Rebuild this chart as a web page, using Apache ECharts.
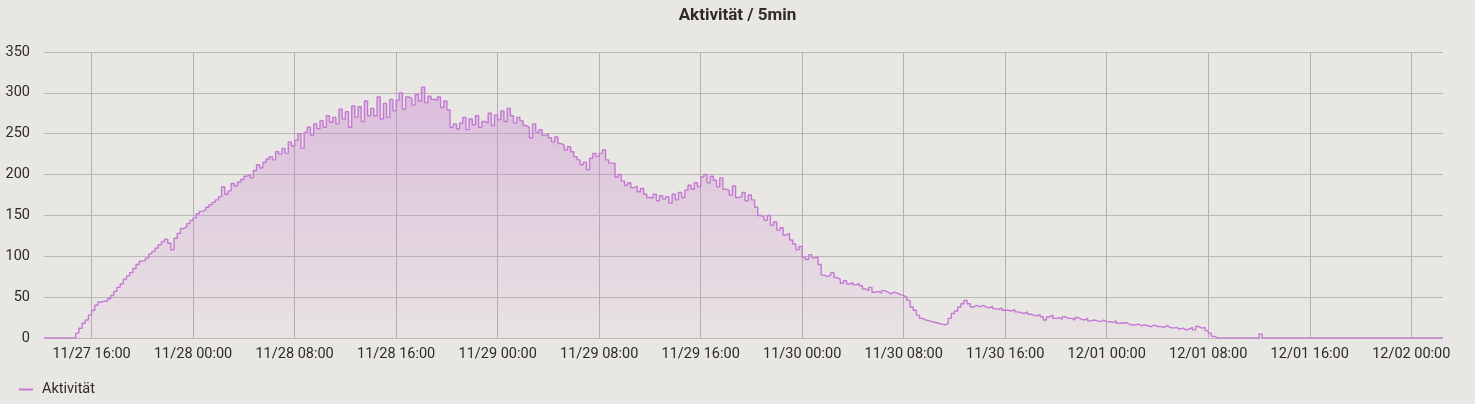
<!DOCTYPE html>
<html>
<head>
<meta charset="utf-8">
<script src="https://cdn.jsdelivr.net/npm/echarts@6/dist/echarts.min.js"></script>
<style>
html,body{margin:0;padding:0;background:#e9e7e3;}
#chart{width:1475px;height:404px;}
</style>
</head>
<body>
<div id="chart"></div>
<script>
// Series: Aktivität, 15-minute samples starting 11/27 12:15
const seriesName = 'Aktivität';
const startTime = [2023, 10, 27, 12, 15];
const endTime = [2023, 11, 2, 2, 30];
const stepMinutes = 15;
const values = [
  // 11/27 12:15..12:45
  0,0,0,
  // 13
  0,0,0,0,
  // 14
  0,0,0,6,
  // 15
  12,18,22,28,
  // 16
  34,40,44,45,
  // 17
  45,48,52,57,
  // 18
  62,66,72,76,
  // 19
  80,85,90,94,
  // 20
  95,98,103,106,
  // 21
  110,114,118,121,
  // 22
  116,108,122,128,
  // 23
  134,136,140,144,
  // 11/28 00
  147,152,155,157,
  160,163,166,169,
  173,185,176,180,
  189,186,191,194,
  198,200,196,205,
  212,208,215,219,
  222,218,228,225,
  232,226,240,235,
  242,250,232,252,
  258,248,262,256,
  266,258,272,264,
  270,262,280,268,
  277,258,284,270,
  283,265,290,272,
  281,272,295,268,
  287,270,292,278,
  291,300,280,295,
  293,285,298,290,
  307,288,296,292,
  291,295,282,290,
  279,258,262,256,
  263,270,255,268,
  261,272,258,265,
  263,275,260,273,
  // 11/29 00
  267,278,265,281,
  272,263,270,266,
  260,258,245,262,
  252,255,248,250,
  245,240,246,238,
  236,230,234,228,
  222,218,212,215,
  206,220,226,222,
  226,230,218,214,
  214,197,200,192,
  187,190,184,186,
  179,183,176,172,
  171,176,168,174,
  170,173,165,176,
  169,178,172,181,
  187,182,190,185,
  197,200,190,198,
  193,185,196,182,
  181,175,186,172,
  173,178,168,175,
  169,160,150,148,
  144,150,138,142,
  132,135,126,128,
  120,115,108,112,
  // 11/30 00
  99,96,102,98,
  99,90,77,75,
  77,80,74,72,
  67,70,66,68,
  65,67,64,60,
  58,62,56,57,
  55,58,56,54,
  56,55,53,52,
  50,46,38,34,
  28,24,22,21,
  20,19,18,17,
  16,18,24,30,
  33,38,42,46,
  42,38,40,38,
  40,38,37,39,
  36,35,37,34,
  34,33,35,32,
  31,30,32,29,
  28,27,29,26,
  22,26,28,24,
  25,23,26,24,
  24,22,25,23,
  22,24,21,22,
  21,20,22,20,
  // 12/01 00
  20,19,21,18,
  18,19,17,16,
  16,17,15,16,
  15,14,16,14,
  14,13,15,13,
  12,13,11,12,
  10,11,13,10,
  14,12,13,9,
  6,2,0,0,
  0,0,0,0,
  0,0,0,0,
  0,0,0,0,
  5,0,0,0,
  0,0,0,0,
  0,0,0,0,
  0,0,0,0,
  0,0,0,0,
  0,0,0,0,
  0,0,0,0,
  0,0,0,0,
  0,0,0,0,
  0,0,0,0,
  0,0,0,0,
  0,0,0,0,
  // 12/02 00
  0,0,0,0,
  0,0,0,0,
  0,0,0
];
const tickTimes = [
  [2023,10,27,16],[2023,10,28,0],[2023,10,28,8],[2023,10,28,16],
  [2023,10,29,0],[2023,10,29,8],[2023,10,29,16],
  [2023,10,30,0],[2023,10,30,8],[2023,10,30,16],
  [2023,11,1,0],[2023,11,1,8],[2023,11,1,16],[2023,11,2,0]
];
const yTicks = [0,50,100,150,200,250,300,350];

const t0 = new Date(startTime[0], startTime[1], startTime[2], startTime[3], startTime[4]).getTime();
const data = values.map((v, i) => [t0 + i * stepMinutes * 60000, v]);
const tickValues = tickTimes.map(t => new Date(t[0], t[1], t[2], t[3], 0).getTime());
const xMin = t0;
const xMax = new Date(endTime[0], endTime[1], endTime[2], endTime[3], endTime[4]).getTime();

function fmt(v) {
  const d = new Date(v);
  const p = n => (n < 10 ? '0' : '') + n;
  return p(d.getMonth() + 1) + '/' + p(d.getDate()) + ' ' + p(d.getHours()) + ':' + p(d.getMinutes());
}

const chart = echarts.init(document.getElementById('chart'), null, {renderer: 'canvas'});
chart.setOption({
  backgroundColor: '#e9e7e3',
  animation: false,
  textStyle: {fontFamily: 'Roboto'},
  title: {
    text: 'Aktivität / 5min',
    left: 'center',
    top: 2,
    textStyle: {fontFamily: 'Roboto', fontSize: 17, fontWeight: 'bold', color: '#2e2b29'}
  },
  legend: {
    left: 14,
    bottom: 2,
    itemWidth: 14,
    itemHeight: 2,
    icon: 'rect',
    data: [{name: seriesName, icon: 'rect'}],
    textStyle: {fontFamily: 'Roboto', fontSize: 14.5, color: '#2e2b29', padding: [0, 0, 0, 4]}
  },
  grid: {left: 44, right: 32, top: 52, bottom: 66, containLabel: false},
  xAxis: {
    type: 'value',
    min: xMin,
    max: xMax,
    axisLine: {show: false},
    axisTick: {show: false, customValues: tickValues},
    splitLine: {show: true, lineStyle: {color: '#b3b1ad', width: 1}},
    axisLabel: {
      customValues: tickValues,
      margin: 9,
      color: '#2e2b29',
      fontSize: 14.5,
      fontFamily: 'Roboto',
      formatter: fmt
    }
  },
  yAxis: {
    type: 'value',
    min: yTicks[0],
    max: yTicks[yTicks.length - 1],
    interval: 50,
    axisLine: {show: false},
    axisTick: {show: false},
    splitLine: {show: true, lineStyle: {color: '#bab8b4', width: 1}},
    axisLabel: {margin: 14, color: '#2e2b29', fontSize: 14.5, fontFamily: 'Roboto'}
  },
  series: [{
    name: seriesName,
    type: 'line',
    step: 'end',
    data: data,
    showSymbol: false,
    symbol: 'none',
    color: '#c47ad4',
    lineStyle: {color: '#c47ad4', width: 1.4},
    areaStyle: {
      color: new echarts.graphic.LinearGradient(0, 0, 0, 1, [
        {offset: 0, color: 'rgba(200,130,210,0.6)'},
        {offset: 1, color: 'rgba(200,130,210,0.06)'}
      ])
    }
  }]
});
</script>
</body>
</html>
